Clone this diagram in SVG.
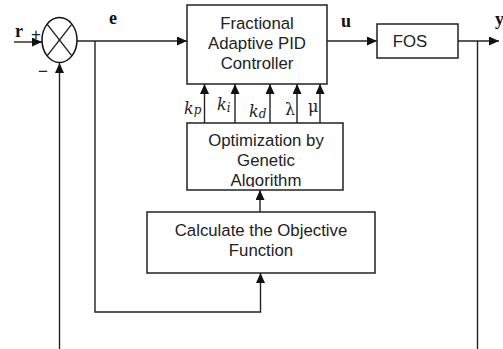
<svg xmlns="http://www.w3.org/2000/svg" width="503" height="349" viewBox="0 0 503 349">
<style>
.box{fill:#fff;stroke:#222;stroke-width:1.5}
.ln{fill:none;stroke:#222;stroke-width:1.4}
.t{font-family:"Liberation Sans",Arial,sans-serif;font-size:16.8px;fill:#222;text-anchor:middle}
.sig{font-family:"Liberation Serif","Times New Roman",serif;font-weight:bold;font-size:18px;fill:#111}
.m{font-family:"DejaVu Serif","Liberation Serif",serif;font-style:italic;font-size:16px;fill:#222}
.g{font-family:"DejaVu Serif","Liberation Serif",serif;font-style:normal;font-size:16px;fill:#222}
.ms{font-size:12px}
</style>
<defs>
<marker id="ah" markerUnits="userSpaceOnUse" markerWidth="11" markerHeight="10" refX="10" refY="4.5" orient="auto">
<path d="M0,0 L10,4.5 L0,9 z" fill="#111"/>
</marker>
<clipPath id="optclip"><rect x="187" y="123" width="156" height="64"/></clipPath>
</defs>
<g id="connectors">
<line class="ln" x1="14" y1="42" x2="42" y2="42" marker-end="url(#ah)"/>
<line class="ln" x1="59.5" y1="349" x2="59.5" y2="63" marker-end="url(#ah)"/>
<line class="ln" x1="77" y1="41" x2="187" y2="41" marker-end="url(#ah)"/>
<polyline class="ln" points="95,41 95,312 260.5,312 260.5,273" marker-end="url(#ah)"/>
<line class="ln" x1="327" y1="41" x2="377" y2="41" marker-end="url(#ah)"/>
<line class="ln" x1="458" y1="41" x2="499" y2="41" marker-end="url(#ah)"/>
<line class="ln" x1="477.5" y1="41" x2="477.5" y2="349"/>
<line class="ln" x1="260" y1="212" x2="260" y2="190" marker-end="url(#ah)"/>
<line class="ln" x1="204.5" y1="123" x2="204.5" y2="84" marker-end="url(#ah)"/>
<line class="ln" x1="235" y1="123" x2="235" y2="84" marker-end="url(#ah)"/>
<line class="ln" x1="270" y1="123" x2="270" y2="84" marker-end="url(#ah)"/>
<line class="ln" x1="297" y1="123" x2="297" y2="84" marker-end="url(#ah)"/>
<line class="ln" x1="320" y1="123" x2="320" y2="84" marker-end="url(#ah)"/>
</g>
<g id="sum">
<ellipse cx="59.5" cy="40" rx="17.5" ry="22.5" fill="#fff" stroke="#111" stroke-width="1.5"/>
<line class="ln" x1="47.1" y1="24.1" x2="71.9" y2="55.9"/>
<line class="ln" x1="71.9" y1="24.1" x2="47.1" y2="55.9"/>
<text x="36" y="40" font-family="Liberation Sans,Arial,sans-serif" font-size="17" fill="#222" text-anchor="middle">+</text>
<text x="43" y="77" font-family="Liberation Sans,Arial,sans-serif" font-size="17" fill="#222" text-anchor="middle">−</text>
</g>
<g id="labels">
<text class="sig" x="15" y="37">r</text>
<text class="sig" x="109" y="24">e</text>
<text class="sig" x="341" y="27">u</text>
<text class="sig" x="495" y="25">y</text>
</g>
<g id="controller">
<rect class="box" x="187" y="5" width="140" height="79"/>
<text class="t" x="257" y="29">Fractional</text>
<text class="t" x="257" y="49">Adaptive PID</text>
<text class="t" x="257" y="69">Controller</text>
</g>
<g id="fos">
<rect class="box" x="377" y="24" width="81" height="34"/>
<text class="t" x="410" y="47">FOS</text>
</g>
<g id="params">
<text class="m" x="184" y="114">k<tspan class="ms" dy="0">p</tspan></text>
<text class="m" x="217" y="110">k<tspan class="ms" dy="2">i</tspan></text>
<text class="m" x="249" y="117">k<tspan class="ms" dy="1">d</tspan></text>
<text class="g" x="285" y="115">λ</text>
<text class="g" x="308" y="112">μ</text>
</g>
<g id="optimization">
<rect class="box" x="187" y="123" width="156" height="67"/>
<text class="t" x="266" y="146">Optimization by</text>
<text class="t" x="266" y="166">Genetic</text>
<text class="t" x="266" y="186" clip-path="url(#optclip)">Algorithm</text>
</g>
<g id="objective">
<rect class="box" x="147" y="212" width="228" height="61"/>
<text class="t" x="261" y="236">Calculate the Objective</text>
<text class="t" x="261" y="256">Function</text>
</g>
</svg>
